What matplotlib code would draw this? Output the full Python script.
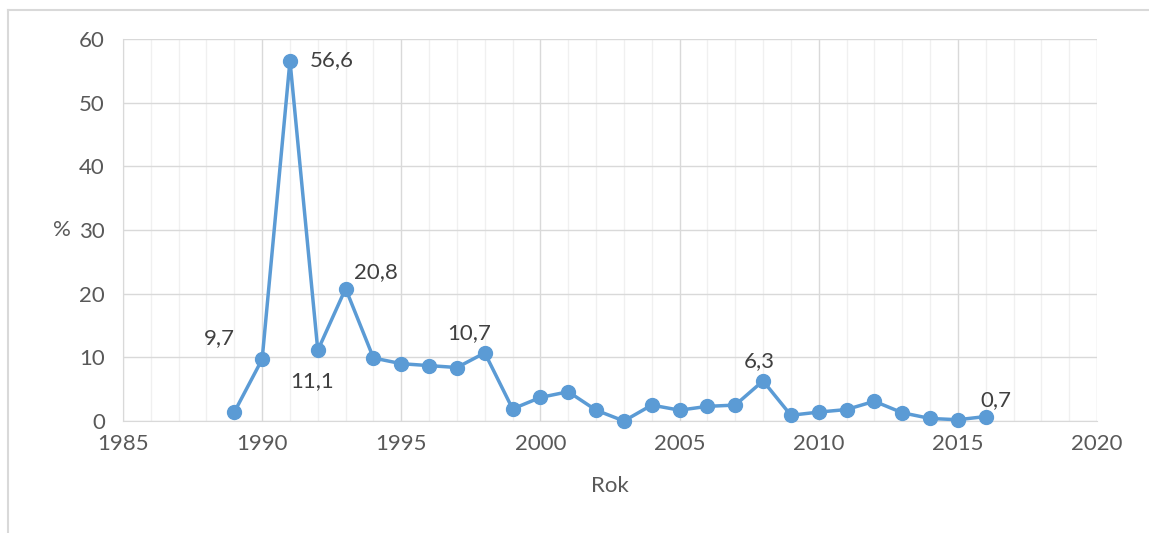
import matplotlib
matplotlib.use("Agg")
import matplotlib.pyplot as plt
from matplotlib.ticker import MultipleLocator
from matplotlib.lines import Line2D

years = list(range(1989, 2017))
values = [1.4, 9.7, 56.6, 11.1, 20.8, 9.9, 9.0, 8.7, 8.4, 10.7,
          1.9, 3.7, 4.6, 1.7, 0.0, 2.5, 1.7, 2.3, 2.5, 6.3,
          0.9, 1.4, 1.8, 3.1, 1.3, 0.4, 0.2, 0.7]
labels = {1990: "9,7", 1991: "56,6", 1992: "11,1", 1993: "20,8",
          1998: "10,7", 2008: "6,3", 2016: "0,7"}
label_offsets = {1990: (-42, 8), 1991: (14, -7), 1992: (-20, -29), 1993: (6, 5),
                 1998: (-27, 7), 2008: (-14, 7), 2016: (-4, 5)}

plt.rcParams['font.family'] = ['Lato', 'DejaVu Sans']
fig = plt.figure(figsize=(11.49, 5.33), dpi=100)
# outer chart border (top and left visible)
fig.lines.append(Line2D([8/1149, 1.0], [1 - 10/533, 1 - 10/533], transform=fig.transFigure,
                        color='#D9D9D9', linewidth=1.5))
fig.lines.append(Line2D([8/1149, 8/1149], [0, 1 - 10/533], transform=fig.transFigure,
                        color='#D9D9D9', linewidth=1.5))
ax = fig.add_axes([123/1149, 1 - 421/533, (1097-123)/1149, (421-39)/533])

ax.set_xlim(1985, 2020)
ax.set_ylim(0, 60)
ax.xaxis.set_major_locator(MultipleLocator(5))
ax.xaxis.set_minor_locator(MultipleLocator(1))
ax.yaxis.set_major_locator(MultipleLocator(10))
ax.grid(which='minor', axis='x', color='#F0F0F0', linewidth=1)
ax.grid(which='major', axis='x', color='#D9D9D9', linewidth=1)
ax.grid(which='major', axis='y', color='#D9D9D9', linewidth=1)
ax.set_axisbelow(True)
for s in ['top', 'right']:
    ax.spines[s].set_visible(False)
ax.spines['bottom'].set_color('#D9D9D9')
ax.spines['left'].set_color('#D9D9D9')
ax.tick_params(which='both', length=0, labelsize=16, colors='#595959')
ax.tick_params(axis='x', pad=9)
ax.tick_params(axis='y', pad=13)

ax.plot(years, values, color='#5B9BD5', linewidth=2.5, marker='o', markersize=10,
        markerfacecolor='#5B9BD5', markeredgecolor='#5B9BD5', clip_on=False, zorder=3)

for y, v in zip(years, values):
    if y in labels:
        ax.annotate(labels[y], (y, v), xytext=label_offsets[y], textcoords='offset points',
                    fontsize=16, color='#404040', ha='left', va='bottom')

ax.set_xlabel('Rok', fontsize=16, color='#595959', labelpad=16)
ax.set_ylabel('%', fontsize=16, color='#595959', rotation=0, labelpad=12, va='center')

fig.savefig('out.png', dpi=100)
